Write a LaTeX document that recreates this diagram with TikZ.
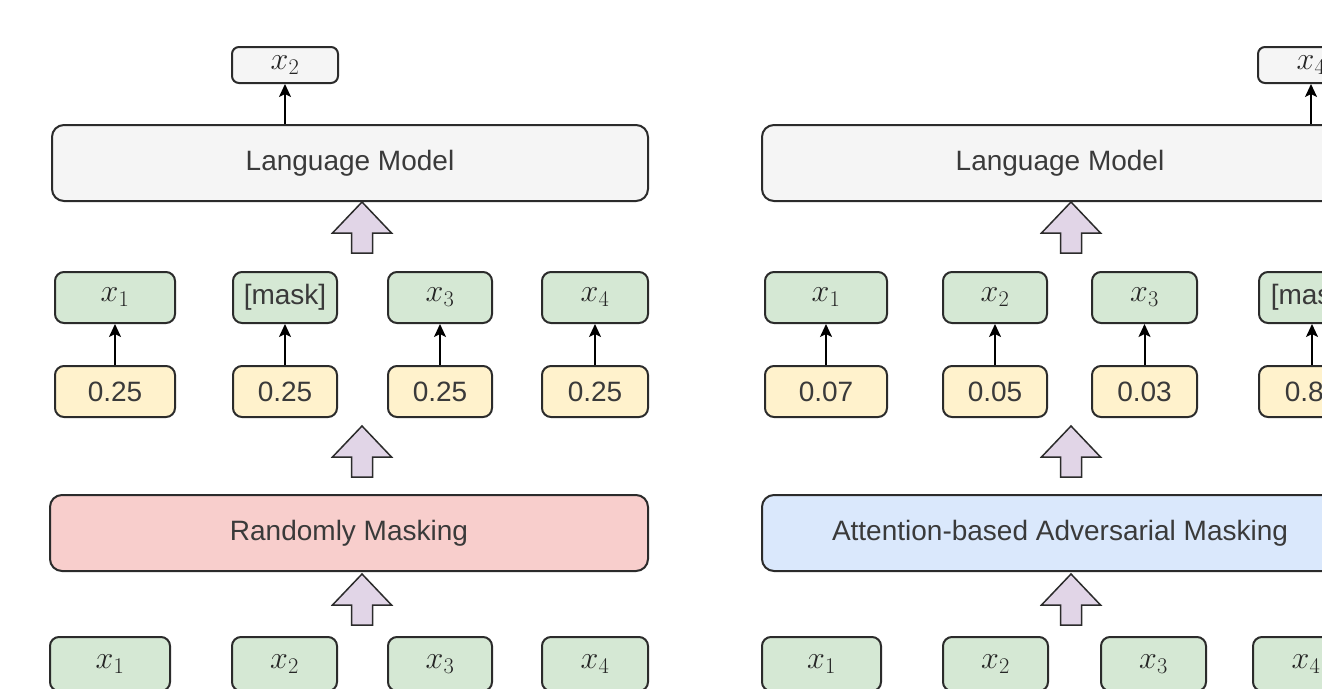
\RequirePackage{fix-cm}
\documentclass[tikz,border=0pt]{standalone}
\usepackage[no-math]{fontspec}
\setmainfont{Liberation Sans}
\usetikzlibrary{arrows.meta,calc}
\definecolor{tgreen}{HTML}{D5E8D4}
\definecolor{tyellow}{HTML}{FFF2CC}
\definecolor{tred}{HTML}{F8CECC}
\definecolor{tblue}{HTML}{DAE8FC}
\definecolor{tgrey}{HTML}{F5F5F5}
\definecolor{tpurple}{HTML}{E1D5E7}
\definecolor{tstroke}{HTML}{2B2B2B}
\definecolor{ttext}{HTML}{3A3A3A}
\newcommand{\mxv}[1]{{\fontsize{32}{36}\selectfont\color{black!85}$#1$}}
\tikzset{fatup/.pic={\draw[fill=tpurple, draw=tstroke, line width=1.5pt, line join=miter]
  (0,0) -- (29.5,31) -- (10.5,31) -- (10.5,51) -- (-10.5,51) -- (-10.5,31) -- (-29.5,31) -- cycle;}}
\begin{document}
\begin{tikzpicture}[x=1pt,y=-1pt,
 box/.style={draw=tstroke, line width=2pt, rounded corners=9pt, inner sep=0pt, text=ttext, font=\fontsize{28}{34}\selectfont},
 tok/.style={box, fill=tgreen, minimum height=51pt},
 tokb/.style={box, fill=tgreen, minimum height=54pt},
 prob/.style={box, fill=tyellow, minimum height=51pt},
 outbox/.style={box, fill=tgrey, minimum width=106pt, minimum height=36pt, rounded corners=7pt},
 big/.style={box, minimum height=76pt, minimum width=596pt, rounded corners=12pt},
 conn/.style={-{Stealth[length=13pt,width=12pt,inset=3pt]}, line width=2pt, black},
]
\useasboundingbox (0,0) rectangle (1322,688);
\fill[white] (0,0) rectangle (1322,688);
\clip (0,0) rectangle (1322,688);

% ---------- left panel ----------
\node[outbox] (ltop) at (285,65) {\mxv{x_2}};
\node[big, fill=tgrey] (llm) at (350,163) {Language Model};
\node[tok, minimum width=120pt] (lg1) at (115,297.5) {\mxv{x_1}};
\node[tok, minimum width=104pt] (lg2) at (285,297.5) {[mask]};
\node[tok, minimum width=104pt] (lg3) at (440,297.5) {\mxv{x_3}};
\node[tok, minimum width=106pt] (lg4) at (595,297.5) {\mxv{x_4}};
\node[prob, minimum width=120pt] (ly1) at (115,391.5) {0.25};
\node[prob, minimum width=104pt] (ly2) at (285,391.5) {0.25};
\node[prob, minimum width=104pt] (ly3) at (440,391.5) {0.25};
\node[prob, minimum width=106pt] (ly4) at (595,391.5) {0.25};
\node[big, fill=tred, minimum width=598pt] (lrm) at (349,533) {Randomly Masking};
\node[tokb, minimum width=120pt] (lb1) at (110,664) {\mxv{x_1}};
\node[tokb, minimum width=105pt] (lb2) at (284.5,664) {\mxv{x_2}};
\node[tokb, minimum width=104pt] (lb3) at (440,664) {\mxv{x_3}};
\node[tokb, minimum width=106pt] (lb4) at (595,664) {\mxv{x_4}};

\draw[conn] (llm.north -| ltop.south) -- (ltop.south);
\foreach \i in {1,...,4} {\draw[conn] (ly\i) -- (lg\i);}
\pic at ($(llm.south)+(12,0)$) {fatup};
\pic at ($(lrm.north)+(13,-68)$) {fatup};
\pic at ($(lrm.south)+(13,2)$) {fatup};

% ---------- right panel ----------
\node[outbox] (rtop) at (1311,65) {\mxv{x_4}};
\node[big, fill=tgrey] (rlm) at (1060,163) {Language Model};
\node[tok, minimum width=122pt] (rg1) at (826,297.5) {\mxv{x_1}};
\node[tok, minimum width=104pt] (rg2) at (995,297.5) {\mxv{x_2}};
\node[tok, minimum width=105pt] (rg3) at (1144.5,297.5) {\mxv{x_3}};
\node[tok, minimum width=106pt] (rg4) at (1312,297.5) {[mask]};
\node[prob, minimum width=122pt] (ry1) at (826,391.5) {0.07};
\node[prob, minimum width=104pt] (ry2) at (995,391.5) {0.05};
\node[prob, minimum width=105pt] (ry3) at (1144.5,391.5) {0.03};
\node[prob, minimum width=106pt] (ry4) at (1312,391.5) {0.85};
\node[big, fill=tblue] (ram) at (1060,533) {Attention-based Adversarial Masking};
\node[tokb, minimum width=119pt] (rb1) at (821.5,664) {\mxv{x_1}};
\node[tokb, minimum width=105pt] (rb2) at (995.5,664) {\mxv{x_2}};
\node[tokb, minimum width=105pt] (rb3) at (1153.5,664) {\mxv{x_3}};
\node[tokb, minimum width=106pt] (rb4) at (1306,664) {\mxv{x_4}};

\draw[conn] (rlm.north -| rtop.south) -- (rtop.south);
\foreach \i in {1,...,4} {\draw[conn] (ry\i) -- (rg\i);}
\pic at ($(rlm.south)+(11,0)$) {fatup};
\pic at ($(ram.north)+(11,-68)$) {fatup};
\pic at ($(ram.south)+(11,2)$) {fatup};
\end{tikzpicture}
\end{document}
